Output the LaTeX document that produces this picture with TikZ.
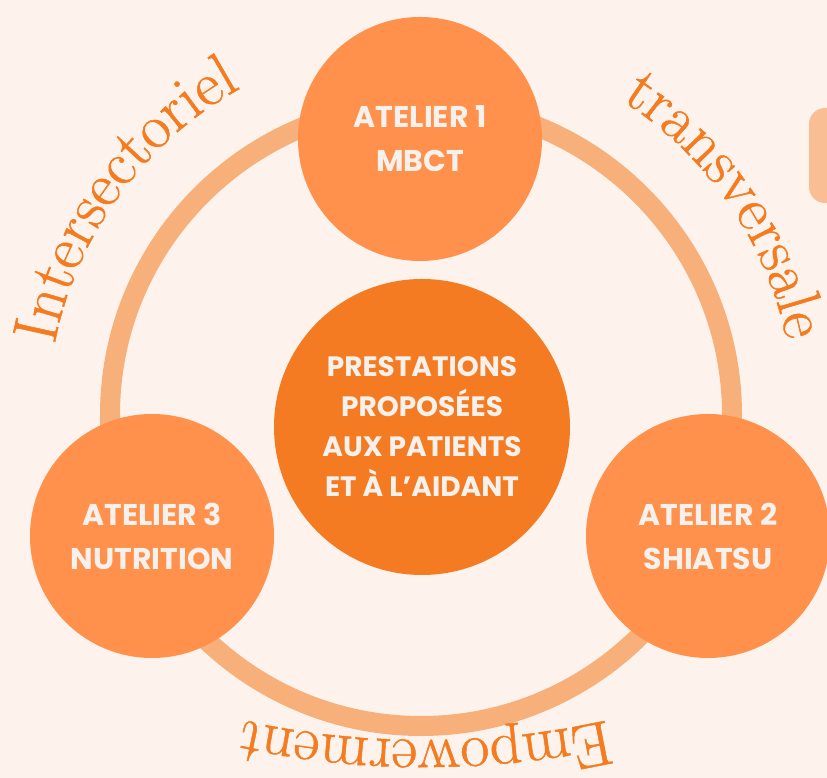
\documentclass[tikz,border=0pt]{standalone}
\usepackage{fontspec}
\usepackage{tikz}
\usetikzlibrary{decorations.text, positioning}

\newfontfamily\atelierfont{Poppins}
\newfontfamily\serieffont{Latin Modern Roman}[FakeBold=0.8]
\definecolor{fond}{HTML}{FEF3EC}
\definecolor{anneauorange}{HTML}{F8B07A}
\definecolor{atelierorange}{HTML}{FF914D}
\definecolor{centreorange}{HTML}{F47B22}
\definecolor{texteorange}{HTML}{F47B20}
\definecolor{rectorange}{HTML}{F9BE94}
\definecolor{blanc}{HTML}{F6F1EC}
\newcommand{\courbefont}{\color{texteorange}\serieffont\fontsize{63}{65}\selectfont}

\begin{document}
\begin{tikzpicture}[x=1pt, y=1pt,
        atelier/.style={circle, fill=atelierorange, minimum size=244pt, inner sep=0pt,
            align=center, text=blanc, font=\atelierfont\bfseries\fontsize{30}{44}\selectfont},
        centre/.style={atelier, fill=centreorange, minimum size=296pt,
            font=\atelierfont\bfseries\fontsize{28}{40}\selectfont},
        anneau/.style={draw=anneauorange, line width=20pt},
        courbe/.style={decorate, decoration={text along path, text align=center,
            text={|\courbefont|#1}}}]
    \clip (0,0) rectangle (827,778);
    \fill[fond] (0,0) rectangle (827,778);
    \fill[rectorange, rounded corners=16pt] (809,575) rectangle (870,670);

    \coordinate (o) at (421,363);
    \coordinate (b) at (425,888);
    \draw[anneau] (o) circle[radius=311pt];

    \path[courbe=Intersectoriel] (o) ++(183:373pt) arc[start angle=183, end angle=105, radius=373pt];
    \path[courbe=transversale] (o) ++(73:373pt) arc[start angle=73, end angle=-4, radius=373pt];
    \path[courbe=Empowerment] (b) ++(-65:850pt) arc[start angle=-65, end angle=-115, radius=850pt];

    \node[atelier] (a1) at (420,639) {ATELIER 1\\MBCT};
    \node[atelier] (a3) at (152,242) {ATELIER 3\\NUTRITION};
    \node[atelier] (a2) at (708,242) {ATELIER 2\\SHIATSU};
    \node[centre] (p) at (422,351) {PRESTATIONS\\PROPOSÉES\\AUX PATIENTS\\ET À L’AIDANT};
\end{tikzpicture}
\end{document}
